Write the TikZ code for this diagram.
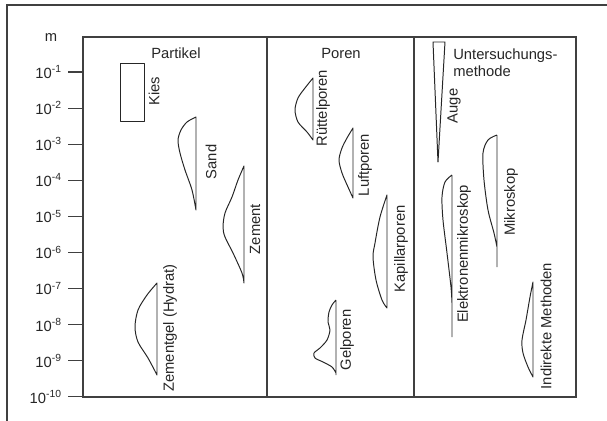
\documentclass[tikz,border=0pt]{standalone}
\usepackage{fontspec}
\setmainfont{Liberation Sans}
\begin{document}
\begin{tikzpicture}[x=0.025cm,y=-0.025cm,
	every node/.style={inner sep=0,text=black!85,font=\fontsize{10.5}{12}\selectfont},
	frame/.style={draw=black!75,line width=0.8pt},
	lbl/.style={rotate=90},
	curve/.style={draw=black!85,line width=0.7pt,line join=round}]
\useasboundingbox (0,0) rectangle (607,421);
\draw[frame] (607,5) -- (7,5) -- (7,421);
\draw[frame] (83,37) rectangle (576,397) (267,37) -- (267,397) (414,37) -- (414,397);
\node (m) at (51,38) {m};
\foreach \e in {1,...,10}{
	\draw[frame] (68,{36.1*\e+35.9}) -- (83,{36.1*\e+35.9});
	\node[anchor=east] (t\e) at (62,{36.1*\e+35.9}) {10\textsuperscript{-\e}};
}
\node (partikel) at (176,53) {Partikel};
\node (poren) at (341,53) {Poren};
\node[align=left,anchor=west] (methode) at (453,63) {Untersuchungs-\\methode};
% Partikel
\draw[curve] (120,63) rectangle (144,121);
\draw[curve] plot[smooth] coordinates {(196,117) (187,122) (181,130) (178,140) (180,153) (185,170) (192,190) (196,210)} -- cycle;
\draw[curve] plot[smooth] coordinates {(244,166) (238,180) (232,197) (225,213) (223,227) (225,237) (233,253) (242,273) (244,283)} -- cycle;
\draw[curve] plot[smooth] coordinates {(157,283) (147,295) (138,310) (135,327) (138,342) (148,358) (157,375)} -- cycle;
\node[lbl] (kies) at (154,91) {Kies};
\node[lbl] (sand) at (211,162) {Sand};
\node[lbl] (zement) at (255,229) {Zement};
\node[lbl] (zgel) at (170,328) {Zementgel (Hydrat)};
% Poren
\draw[curve] plot[smooth] coordinates {(313,78) (305,88) (298,98) (295,110) (298,122) (307,132) (313,140)} -- cycle;
\draw[curve] plot[smooth] coordinates {(353,128) (347,138) (342,148) (339,160) (342,173) (348,187) (353,198)} -- cycle;
\draw[curve] plot[smooth] coordinates {(387,195) (380,217) (375,243) (373,257) (376,280) (382,300) (387,308)} -- cycle;
\draw[curve] (336,300) -- (336,375) plot[smooth] coordinates {(336,300) (332,305) (329,312) (328,322) (330,330) (327,340) (320,348) (314,353) (315,358) (323,362) (332,367) (336,373)};
\node[lbl] (ruettel) at (323,108) {Rüttelporen};
\node[lbl] (luft) at (365,165) {Luftporen};
\node[lbl] (kapillar) at (401,249) {Kapillarporen};
\node[lbl] (gel) at (347,340) {Gelporen};
% Untersuchungsmethode
\draw[curve] (433,42) -- (445,42) -- (438,162) -- cycle;
\draw[curve] (452,175) -- (452,337) plot[smooth] coordinates {(452,175) (445,182) (442,197) (443,220) (447,253) (451,287) (452,303)};
\draw[curve] (497,135) -- (497,267) plot[smooth] coordinates {(497,135) (488,140) (483,153) (484,180) (488,210) (494,233) (497,247)};
\draw[curve] plot[smooth] coordinates {(533,282) (530,297) (526,320) (522,340) (523,353) (528,367) (533,377)} -- cycle;
\node[lbl] (auge) at (454,106) {Auge};
\node[lbl] (elektron) at (464,254) {Elektronenmikroskop};
\node[lbl] (mikro) at (511,202) {Mikroskop};
\node[lbl] (indirekt) at (546,326) {Indirekte Methoden};
\end{tikzpicture}
\end{document}
